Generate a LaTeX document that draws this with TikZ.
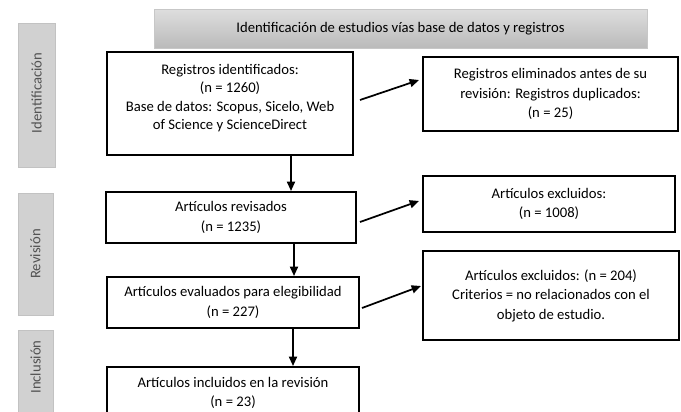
\documentclass[tikz,border=0pt]{standalone}
\usepackage{fontspec}
\setmainfont{Carlito}
\usetikzlibrary{arrows.meta,calc}
\begin{document}
\begin{tikzpicture}[x=0.75pt,y=-0.75pt,
  box/.style={draw=black,line width=1.5pt,align=center,inner sep=0pt,font=\fontsize{11pt}{14.6pt}\selectfont},
  header/.style={draw=black!22,line width=0.6pt,top color=black!13,bottom color=black!27,inner sep=0pt,font=\fontsize{11pt}{13pt}\selectfont},
  sidebar/.style={draw=black!24,fill=black!18,line width=0.6pt,inner sep=0pt},
  sidetext/.style={rotate=90,text=black!68,inner sep=0pt,font=\fontsize{11pt}{13pt}\selectfont},
  arr/.style={line width=1.3pt,-{Triangle[length=7pt,width=6pt]}},
]
\useasboundingbox (0,0) rectangle (681,411);
\clip (0,0) rectangle (681,411);

% header
\node[header,minimum width=369.75pt,minimum height=29.25pt] (hd) at (400.5,28.5) {Identificación de estudios vías base de datos y registros};

% side bars
\node[sidebar,minimum width=27.75pt,minimum height=108pt] (sb1) at (36.5,95) {};
\node[sidetext] (st1) at (36.5,93) {Identificación};
\node[sidebar,minimum width=26.25pt,minimum height=91.5pt] (sb2) at (35.5,254) {};
\node[sidetext] (st2) at (35.5,254) {Revisión};
\node[sidebar,minimum width=26.25pt,minimum height=67.5pt] (sb3) at (35.5,375) {};
\node[sidetext] (st3) at (35.5,367) {Inclusión};

% main column
\node[box,minimum width=184.5pt,minimum height=77.25pt] (b1) at (230,103.5) {};
\node[align=center,inner sep=0pt,font=\fontsize{11pt}{13.7pt}\selectfont] (t1) at (230,98)
  {Registros identificados:\\(n = 1260)\\Base de datos: Scopus, Sicelo, Web\\of Science y ScienceDirect};
\node[box,minimum width=187.5pt,minimum height=38.25pt] (b2) at (231,217.5) {Artículos revisados\\(n = 1235)};
\node[box,minimum width=189pt,minimum height=38.25pt] (b3) at (233,302.5) {Artículos evaluados para elegibilidad\\(n = 227)};
\node[box,minimum width=189pt,minimum height=39pt] (b4) at (233,393) {Artículos incluidos en la revisión\\(n = 23)};

% right column
\node[box,minimum width=191.25pt,minimum height=55.5pt] (r1) at (550.5,94) {Registros eliminados antes de su\\revisión: Registros duplicados:\\(n = 25)};
\node[box,minimum width=189pt,minimum height=42pt] (r2) at (549,204) {Artículos excluidos:\\(n = 1008)};
\node[box,minimum width=192pt,minimum height=66.75pt] (r3) at (551,295.5) {Artículos excluidos: (n = 204)\\Criterios = no relacionados con el\\objeto de estudio.};

% vertical connectors
\coordinate (v1) at (291,0);
\coordinate (v2) at (294,0);
\coordinate (v3) at (293,0);
\draw[arr] (b1.south -| v1) -- (b2.north -| v1);
\draw[arr] (b2.south -| v2) -- (b3.north -| v2);
\draw[arr] (b3.south -| v3) -- (b4.north -| v3);

% diagonal connectors
\draw[arr] ($(b1.east)+(6,-3.5)$) -- ($(r1.west)+(-3,-14)$);
\draw[arr] ($(b2.east)+(3,4.5)$) -- ($(r2.west)+(-3,-3)$);
\draw[arr] ($(b3.east)+(2,5.5)$) -- ($(r3.west)+(-1,-9.5)$);
\end{tikzpicture}
\end{document}
